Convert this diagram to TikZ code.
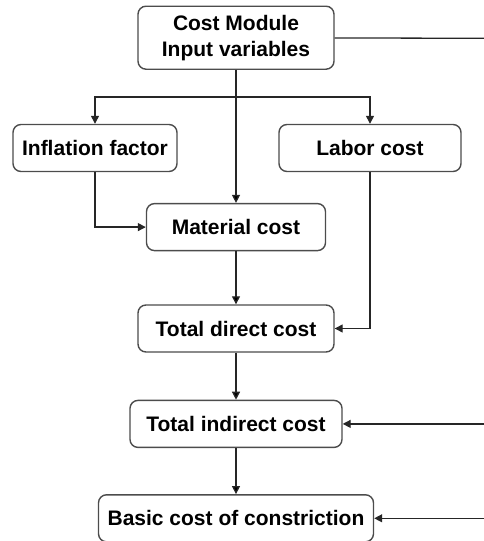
\documentclass[tikz,border=0pt]{standalone}
\usepackage{fontspec}
\setmainfont{Liberation Sans}
\usepackage{xcolor}
\usetikzlibrary{positioning, arrows.meta}

\tikzset{
    box/.style={draw=black!70, line width=1.4pt, rounded corners=8pt, minimum height=47pt,
        inner sep=2pt, align=center, font=\fontsize{21}{26}\selectfont\bfseries},
    link/.style={draw=black!85, line width=1.3pt},
    >={Triangle[length=8pt,width=8pt]}
}

\begin{document}
\begin{tikzpicture}
        \useasboundingbox (0,0) rectangle (483pt,-541pt);
        \node[box, minimum width=196pt, minimum height=63pt] (input) at (236pt,-37.7pt) {Cost Module\\Input variables};
        \node[box, minimum width=164pt] (infl) at (95pt,-148pt) {Inflation factor};
        \node[box, minimum width=182pt] (labor) at (370pt,-148pt) {Labor cost};
        \node[box, minimum width=179pt, below=133pt of input] (material) {Material cost};
        \node[box, minimum width=196pt, below=53pt of material] (direct) {Total direct cost};
        \node[box, minimum width=212pt, below=47pt of direct] (indirect) {Total indirect cost};
        \node[box, minimum width=275pt, below=46pt of indirect] (basic) {Basic cost of constriction};
%
        \coordinate (edge) at (484pt,0pt);
        \coordinate (split) at (236pt,-97pt);
        \coordinate (r1) at (484pt,-38.3pt);
        \coordinate (r2) at (edge |- indirect);
        \coordinate (r3) at (edge |- basic);
%
        \path[link, ->]
        (input) edge (material)
        (material) edge (direct)
        (direct) edge (indirect)
        (indirect) edge (basic);
        \draw[link, ->] (r2) -- (indirect);
        \draw[link, ->] (r3) -- (basic);
        \draw[link] (input) -- (r1);
        \draw[link, ->] (split) -| (infl);
        \draw[link, ->] (split) -| (labor);
        \draw[link, ->] (infl) |- (material);
        \draw[link, ->] (labor) |- (direct);
\end{tikzpicture}
\end{document}
